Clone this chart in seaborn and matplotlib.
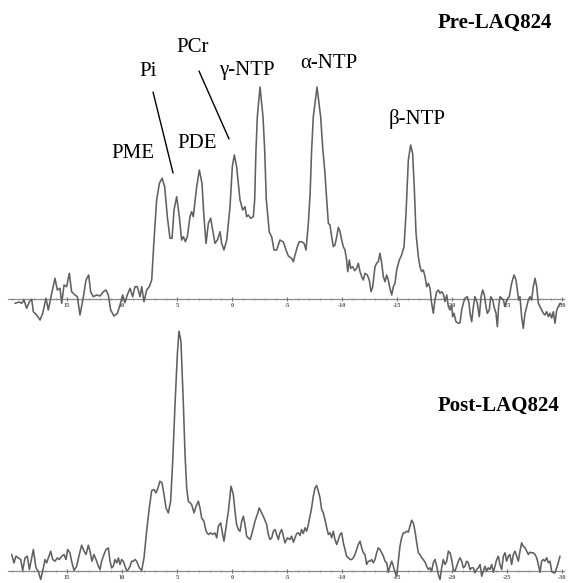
import numpy as np
import pandas as pd
import matplotlib
matplotlib.use("Agg")
import matplotlib.pyplot as plt
import seaborn as sns
from matplotlib.ticker import MultipleLocator, FixedLocator

# ---------------- data (chemical shift in ppm, signal in arbitrary units) ----------------
pre_ppm = [19.73, 19.33, 19.12, 18.91, 18.67, 18.42, 18.21, 18.06, 17.76, 17.45, 17.21, 16.91,
           16.70, 16.39, 16.09, 15.88, 15.64, 15.48, 15.27, 15.03, 14.79, 14.58, 14.27, 14.06,
           13.82, 13.51, 13.27, 13.03, 12.85, 12.61, 12.30, 12.00, 11.70, 11.45, 11.24, 11.03,
           10.73, 10.42, 10.18, 9.94, 9.73, 9.52, 9.27, 9.03, 8.82, 8.61, 8.36, 8.21, 8.00,
           7.76, 7.52, 7.30, 7.09, 6.85, 6.60, 6.36, 6.12, 5.88, 5.64, 5.45, 5.27, 5.03, 4.79,
           4.58, 4.42, 4.24, 4.06, 3.82, 3.67, 3.52, 3.21, 2.97, 2.73, 2.55, 2.36, 2.15, 1.94,
           1.76, 1.55, 1.33, 1.09, 0.94, 0.73, 0.48, 0.18, -0.03, -0.21, -0.42, -0.73, -0.97,
           -1.18, -1.33, -1.48, -1.70, -1.94, -2.06, -2.18, -2.30, -2.55, -2.82, -2.97, -3.12,
           -3.39, -3.61, -3.82, -4.06, -4.36, -4.67, -4.91, -5.12, -5.42, -5.58, -5.73, -5.94,
           -6.12, -6.33, -6.55, -6.73, -6.94, -7.10, -7.24, -7.39, -7.73, -8.06, -8.24, -8.45,
           -8.61, -8.76, -8.91, -9.06, -9.21, -9.36, -9.52, -9.67, -9.82, -9.97, -10.12, -10.27,
           -10.42, -10.52, -10.67, -10.79, -10.97, -11.15, -11.33, -11.48, -11.64, -11.79,
           -11.94, -12.09, -12.30, -12.48, -12.64, -12.79, -13.00, -13.15, -13.30, -13.45,
           -13.61, -13.76, -13.91, -14.06, -14.21, -14.36, -14.52, -14.67, -14.82, -14.97,
           -15.21, -15.42, -15.64, -15.82, -16.03, -16.24, -16.42, -16.58, -16.73, -16.94,
           -17.09, -17.24, -17.39, -17.55, -17.70, -17.85, -18.00, -18.15, -18.30, -18.45,
           -18.61, -18.76, -18.91, -19.06, -19.21, -19.36, -19.52, -19.67, -19.82, -19.97,
           -20.06, -20.18, -20.36, -20.58, -20.73, -20.88, -21.03, -21.18, -21.39, -21.55,
           -21.64, -21.79, -21.94, -22.09, -22.30, -22.48, -22.64, -22.79, -22.94, -23.09,
           -23.21, -23.39, -23.52, -23.70, -23.82, -24.00, -24.12, -24.24, -24.36, -24.52,
           -24.67, -24.82, -24.97, -25.21, -25.42, -25.64, -25.82, -25.94, -26.06, -26.18,
           -26.33, -26.48, -26.64, -26.79, -26.94, -27.09, -27.24, -27.39, -27.55, -27.70,
           -27.85, -28.00, -28.15, -28.30, -28.45, -28.61, -28.76, -28.91, -29.06, -29.21,
           -29.36, -29.52, -29.67, -29.82, -29.97]
pre_signal = [-4.3, -3.0, -4.3, -1.0, -9.3, -2.7, -0.3, -12.7, -16.0, -21.0, -14.3, 0.7,
              -11.0, 5.7, 20.7, 9.0, 10.7, -4.3, 14.0, 12.3, 25.7, 7.3, 4.0, 2.3,
              -16.0, 2.3, 19.0, 24.0, 7.3, 2.3, 4.0, 3.0, 7.3, 9.0, 4.0, -11.0,
              -17.0, -14.3, -6.0, 4.0, -3.7, 4.0, 10.7, 2.3, 12.3, 12.3, 2.3, 12.3, -2.7,
              9.0, 12.3, 19.0, 59.0, 99.0, 115.7, 120.7, 112.3, 82.3, 60.7, 60.7, 89.0, 102.3, 82.3,
              59.0, 62.3, 57.3, 62.3, 82.3, 87.3, 82.3, 112.3, 129.0, 115.7, 82.3, 55.7, 75.7, 80.7,
              69.0, 55.7, 59.0, 67.3, 55.7, 49.0, 59.0, 92.3, 132.3, 144.0, 132.3, 99.0, 89.0,
              92.3, 82.3, 84.0, 80.7, 82.3, 99.0, 149.0, 182.0, 212.0, 182.0, 149.0, 99.0,
              67.0, 62.0, 49.0, 49.0, 59.0, 57.0, 49.0, 43.0, 40.7, 37.3, 44.0, 52.3,
              57.3, 57.3, 55.7, 49.0, 75.7, 105.0, 149.0, 182.0, 212.0, 182.0, 152.0, 126.0,
              99.0, 75.7, 74.0, 62.3, 52.3, 54.0, 62.3, 71.7, 67.3, 59.0, 52.3, 49.0,
              39.0, 27.3, 39.0, 30.7, 32.3, 28.3, 30.7, 35.7, 27.3, 22.3,
              19.0, 25.7, 24.0, 19.0, 7.3, 12.3, 32.3, 35.7, 37.3, 45.7,
              35.7, 22.3, 17.3, 24.0, 19.0, 10.7, 4.0, 12.3, 15.7, 29.0,
              39.0, 44.0, 52.3, 85.7, 139.0, 154.0, 145.7, 109.0, 65.7, 42.3,
              32.3, 27.3, 29.0, 22.3, 12.3, 15.7, 10.7, -4.3, -14.3, -1.0,
              7.3, 9.0, 5.7, 7.3, 5.0, -2.7, 4.0, -7.7, -11.0, -6.0,
              -17.7, -14.3, -22.7, -24.3, -23.7, -11.0, -4.3, 0.7, 2.3, -4.3,
              -14.3, -22.7, -7.7, 2.3, -4.3, -17.7, 2.3, 9.0, 4.0, -7.7,
              -14.3, -11.0, 2.3, -1.0, -7.7, -14.3, -27.7, -7.7, 2.3, 0.7,
              -1.0, -7.7, -1.0, 2.3, 15.7, 24.0, 19.0, 9.0, -1.0, 2.3,
              -17.7, -29.3, -14.3, -7.7, -1.0, 2.3, -1.0, 12.3, 20.7, 12.3,
              -4.3, -7.7, -11.0, -14.3, -16.0, -12.7, -17.7, -14.3, -19.0, -12.7,
              -24.3, -11.0, -7.7, -4.3, -5.0]

post_ppm = [20.03, 19.82, 19.64, 19.42, 19.21, 19.03, 18.82, 18.61, 18.42, 18.21, 18.06, 17.82,
            17.61, 17.39, 17.15, 17.00, 16.85, 16.70, 16.48, 16.30, 16.09, 15.88, 15.70, 15.48,
            15.27, 15.09, 14.94, 14.73, 14.58, 14.36, 14.12, 13.88, 13.67, 13.45, 13.27, 13.06,
            12.91, 12.73, 12.55, 12.36, 12.15, 12.00, 11.85, 11.64, 11.45, 11.24, 11.09, 10.94,
            10.79, 10.64, 10.48, 10.33, 10.18, 10.03, 9.88, 9.73, 9.58, 9.42, 9.27, 9.12, 8.97,
            8.82, 8.67, 8.42, 8.21, 8.00, 7.76, 7.52, 7.30, 7.09, 6.91, 6.73, 6.55, 6.36, 6.18,
            6.00, 5.79, 5.58, 5.39, 5.18, 4.97, 4.82, 4.64, 4.42, 4.27, 4.12, 3.97, 3.82, 3.67,
            3.45, 3.27, 3.06, 2.91, 2.76, 2.55, 2.36, 2.15, 1.94, 1.76, 1.55, 1.39, 1.24, 1.03,
            0.85, 0.73, 0.55, 0.33, 0.09, -0.12, -0.27, -0.42, -0.58, -0.73, -0.88, -1.03,
            -1.18, -1.33, -1.48, -1.64, -1.79, -1.94, -2.09, -2.30, -2.48, -2.70, -2.91, -3.15,
            -3.30, -3.45, -3.61, -3.76, -3.91, -4.06, -4.21, -4.36, -4.52, -4.67, -4.82, -5.03,
            -5.27, -5.42, -5.58, -5.73, -5.88, -6.03, -6.18, -6.33, -6.48, -6.64, -6.79, -6.94,
            -7.09, -7.24, -7.39, -7.55, -7.70, -7.85, -8.00, -8.15, -8.30, -8.45, -8.61, -8.76,
            -8.91, -9.06, -9.21, -9.36, -9.52, -9.67, -9.82, -9.97, -10.12, -10.27, -10.42,
            -10.58, -10.73, -10.88, -11.03, -11.18, -11.33, -11.48, -11.64, -11.79, -11.94,
            -12.09, -12.24, -12.39, -12.55, -12.70, -12.85, -13.00, -13.15, -13.30, -13.45,
            -13.61, -13.76, -13.91, -14.06, -14.21, -14.36, -14.52, -14.67, -14.82, -14.97,
            -15.12, -15.27, -15.42, -15.58, -15.73, -15.88, -16.03, -16.18, -16.33, -16.48,
            -16.64, -16.79, -16.94, -17.09, -17.24, -17.39, -17.55, -17.70, -17.85, -18.00,
            -18.15, -18.30, -18.45, -18.61, -18.76, -18.91, -19.06, -19.21, -19.36, -19.52,
            -19.67, -19.82, -19.97, -20.12, -20.27, -20.42, -20.58, -20.73, -20.88, -21.03,
            -21.18, -21.33, -21.48, -21.64, -21.79, -21.94, -22.09, -22.24, -22.39, -22.55,
            -22.70, -22.85, -23.00, -23.15, -23.30, -23.45, -23.61, -23.76, -23.91, -24.06,
            -24.21, -24.36, -24.52, -24.67, -24.82, -24.97, -25.12, -25.27, -25.42, -25.58,
            -25.73, -25.88, -26.03, -26.18, -26.33, -26.48, -26.64, -26.79, -26.94, -27.09,
            -27.24, -27.39, -27.55, -27.70, -27.85, -28.00, -28.15, -28.30, -28.45, -28.61,
            -28.76, -28.91, -29.06, -29.21, -29.36, -29.52, -29.67, -29.82]
post_signal = [16.0, 7.6, 14.3, 12.6, 11.0, 0.0, 12.6, 14.3, 1.0, 12.6, 21.0, 2.6,
               -0.7, -9.0, 2.6, 11.0, 7.6, 12.6, 19.3, 11.0, 9.3, 12.6, 11.0, 14.3,
               16.0, 11.0, 21.0, 17.6, 9.3, 0.0, 4.3, 16.0, 25.3, 19.3, 16.0, 25.3,
               19.3, 9.3, 16.0, 11.0, 4.3, 1.0, 9.3, 16.0, 21.0, 22.6, 9.3, 2.6,
               4.3, 11.0, 7.6, 12.6, 6.0, 11.0, 9.3, 4.3, 0.0, 1.0, 4.3, 9.3, 9.3,
               11.0, 9.3, 2.6, 0.0, 12.6, 39.3, 62.6, 80.0, 81.0, 77.6, 82.6, 89.3, 87.6, 76.0,
               62.6, 57.6, 69.3, 109.3, 166.0, 216.0, 239.3, 229.3, 166.0, 116.0, 82.6, 69.3, 67.6, 66.0,
               57.6, 64.3, 69.3, 62.6, 52.6, 49.3, 39.3, 36.0, 37.6, 36.0, 37.6, 32.6, 44.3, 47.6,
               36.0, 29.3, 42.6, 59.3, 84.3, 76.0, 59.3, 46.0, 41.0, 39.3, 49.3, 54.3,
               46.0, 34.3, 32.6, 31.0, 36.0, 42.6, 49.3, 56.0, 62.6, 57.6, 52.6, 46.0,
               36.0, 31.0, 32.6, 39.3, 41.0, 36.0, 31.0, 37.6, 41.0, 34.3, 27.6, 32.6,
               31.0, 34.3, 28.3, 32.7, 37.0, 37.7, 35.0, 41.0, 37.0, 42.7, 39.3, 46.0,
               54.3, 62.7, 74.3, 82.7, 85.0, 79.3, 72.7, 61.0, 57.7, 51.0, 42.7, 36.0,
               37.7, 32.7, 39.3, 31.0, 26.0, 31.0, 36.0, 37.7, 27.7, 21.0, 14.3,
               12.7, 11.0, 11.0, 12.7, 16.0, 21.0, 26.0, 29.3, 22.7, 17.7,
               16.0, 6.0, 9.3, 9.3, 11.0, 7.7, 11.0, 17.7, 22.7, 21.0,
               17.7, 14.3, 9.3, 7.7, -1.7, 4.3, 9.3, 4.3, -1.7, -5.7,
               9.3, 24.3, 32.7, 37.7, 37.7, 39.3, 38.3, 44.3, 50.3, 47.7,
               39.3, 27.7, 17.7, 16.0, 12.7, 11.0, 8.3, 4.3, 1.0, 2.7,
               -0.7, 7.7, 11.0, 4.3, -4.0, -9.0, 2.7, 11.0, 6.0, 9.3,
               19.3, 17.7, 11.0, 1.0, -0.7, 4.3, 9.3, 12.7, 9.3, 2.7,
               4.3, 9.3, 7.7, 1.0, 2.7, 2.7, -2.3, 1.0, 2.7, 6.0,
               -5.7, -0.7, 4.3, -0.7, 2.7, 1.0, 6.0, -1.7, 4.3, 11.0,
               14.3, 6.0, 1.0, 14.3, 17.7, 9.3, 14.3, 16.0, 6.0, 16.0,
               19.3, 14.3, 9.3, 19.3, 27.7, 24.3, 22.7, 19.3, 16.0, 18.3,
               17.7, 17.7, 16.0, 12.7, 6.0, -1.7, 9.3, 11.0, 9.3, 12.7,
               7.7, 9.3, -0.7, -2.3, -2.3, 2.7, 8.3, 14.3]

major_ticks = [15, 10, 5, 0, -5, -10, -15, -20, -25, -30]
tick_labels = ["15", "10", "5", "0", "-5", "-10", "-15", "-20", "-25", "-30"]

peak_labels = ["PME", "Pi", "PDE", "PCr", "\u03b3-NTP", "\u03b1-NTP", "\u03b2-NTP"]
peak_label_ppm = [9.0, 7.64, 3.18, 3.55, -1.36, -8.82, -16.8]
peak_label_y = [146, 228, 156, 252, 228, 236, 180]

panel_titles = ["Pre-LAQ824", "Post-LAQ824"]

# ---------------- figure ----------------
sns.set_theme(style="white")
plt.rcParams["font.family"] = ["Liberation Serif", "DejaVu Serif"]

W, H = 573, 583
fig = plt.figure(figsize=(W / 100, H / 100), dpi=100)
fig.patch.set_facecolor("white")

px_per_ppm = 11.0
x0_px = 232.0  # pixel of 0 ppm
xl, xr = 20.4, -30.2
left = (x0_px - px_per_ppm * xl) / W
width = (px_per_ppm * (xl - xr)) / W

# top panel: baseline at y=299 px, 1 unit = 1 px
top_ylim = (-35, 220)
ax1 = fig.add_axes([left, (H - (299 - top_ylim[0])) / H, width, (top_ylim[1] - top_ylim[0]) / H])
# bottom panel: baseline at y=570.5 px
bot_ylim = (-12, 245)
ax2 = fig.add_axes([left, (H - (570.5 - bot_ylim[0])) / H, width, (bot_ylim[1] - bot_ylim[0]) / H])

line_col = "#606060"
for ax, ppm, sig, ylim in [(ax1, pre_ppm, pre_signal, top_ylim), (ax2, post_ppm, post_signal, bot_ylim)]:
    df = pd.DataFrame({"ppm": ppm, "signal": sig})
    sns.lineplot(data=df, x="ppm", y="signal", ax=ax, color=line_col, lw=1.15,
                 estimator=None, sort=False)
    ax.set_xlim(xl, xr)
    ax.set_ylim(*ylim)
    ax.set_facecolor("none")
    ax.set_xlabel("")
    ax.set_ylabel("")
    for s in ["top", "left", "right"]:
        ax.spines[s].set_visible(False)
    ax.spines["bottom"].set_position(("data", 0))
    ax.spines["bottom"].set_color("#8a8a8a")
    ax.spines["bottom"].set_linewidth(0.9)
    ax.spines["bottom"].set_zorder(0)
    ax.set_yticks([])
    ax.xaxis.set_major_locator(FixedLocator(major_ticks))
    ax.set_xticklabels(tick_labels)
    ax.xaxis.set_minor_locator(MultipleLocator(1))
    ax.tick_params(axis="x", which="major", direction="inout", length=3, width=0.8,
                   color="#777777", labelsize=4.5, labelcolor="#555555", pad=1.5, bottom=True)
    ax.tick_params(axis="x", which="minor", direction="inout", length=2, width=0.6,
                   color="#888888", bottom=True)
    for lab in ax.get_xticklabels():
        lab.set_fontweight("bold")

# peak labels (top panel)
for name, xp, yp in zip(peak_labels, peak_label_ppm, peak_label_y):
    ax1.text(xp, yp, name, ha="center", va="center", fontsize=15, color="black",
             clip_on=False)

# leader lines for Pi and PCr
ax1.plot([7.18, 5.36], [207, 126], color="black", lw=1.0, clip_on=False)
ax1.plot([3.0, 0.27], [228, 160], color="black", lw=1.0, clip_on=False)

# panel titles
ax1.text(-23.9, 276, panel_titles[0], ha="center", va="center", fontsize=15,
         fontweight="bold", color="black", clip_on=False)
ax2.text(-24.2, 164.5, panel_titles[1], ha="center", va="center", fontsize=15,
         fontweight="bold", color="black", clip_on=False)

fig.savefig("out.png", dpi=100, facecolor="white")
